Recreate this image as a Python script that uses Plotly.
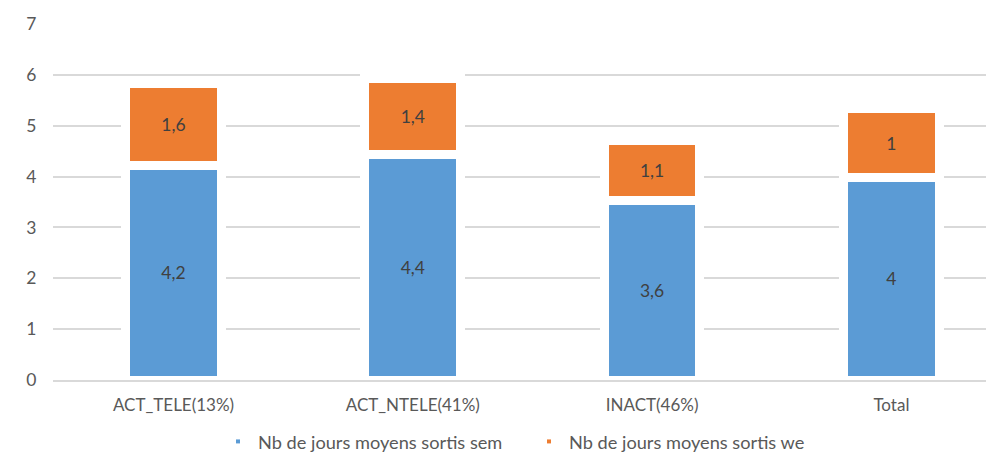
import plotly.graph_objects as go

categories = ["ACT_TELE(13%)", "ACT_NTELE(41%)", "INACT(46%)", "Total"]
sem_values = [4.21, 4.44, 3.52, 3.98]
we_values = [1.62, 1.48, 1.18, 1.35]
sem_labels = ["4,2", "4,4", "3,6", "4"]
we_labels = ["1,6", "1,4", "1,1", "1"]
series_names = ["Nb de jours moyens sortis sem", "Nb de jours moyens sortis we"]
y_ticks = [0, 1, 2, 3, 4, 5, 6, 7]

BLUE = "#5B9BD5"
ORANGE = "#ED7D31"
FONT = "Lato"

fig = go.Figure()
fig.add_trace(go.Bar(
    x=categories, y=sem_values, name=series_names[0], showlegend=False,
    marker=dict(color=BLUE, line=dict(color="white", width=9)),
    text=sem_labels, textposition="inside", insidetextanchor="middle",
    textfont=dict(color="#404040", size=17.5, family=FONT), width=0.4,
))
fig.add_trace(go.Bar(
    x=categories, y=we_values, name=series_names[1], showlegend=False,
    marker=dict(color=ORANGE, line=dict(color="white", width=9)),
    text=we_labels, textposition="inside", insidetextanchor="middle",
    textfont=dict(color="#404040", size=17.5, family=FONT), width=0.4,
))
# legend entries (small dots, as in the original), one legend per entry
for nm, col, lg in zip(series_names, [BLUE, ORANGE], ["legend", "legend2"]):
    fig.add_trace(go.Scatter(x=[None], y=[None], mode="markers", name=nm,
                             legend=lg,
                             marker=dict(color=col, size=4, symbol="square")))

leg_common = dict(orientation="h", xanchor="left", xref="container",
                  yref="container", y=0.03, yanchor="middle",
                  font=dict(size=18.2, color="#595959", family=FONT),
                  itemwidth=30, bgcolor="rgba(0,0,0,0)")

fig.update_layout(
    width=986, height=447, barmode="stack",
    margin=dict(l=45, r=0, t=16, b=74.5),
    paper_bgcolor="white", plot_bgcolor="white",
    font=dict(family=FONT, color="#595959", size=18),
    showlegend=True,
    legend=dict(x=0.213, **leg_common),
    legend2=dict(x=0.5284, **leg_common),
    uniformtext=dict(mode=False),
)
fig.update_xaxes(range=[-0.5035, 3.4288], showgrid=False, showline=True,
                 linecolor="#D9D9D9", linewidth=1.5, ticks="outside",
                 ticklen=9, tickcolor="rgba(0,0,0,0)", layer="above traces",
                 tickfont=dict(size=17, color="#595959"), automargin=False)
fig.update_yaxes(range=[0, 7], tickvals=y_ticks, showgrid=True,
                 gridcolor="#D9D9D9", gridwidth=1.5, zeroline=False,
                 ticks="outside", ticklen=12, tickcolor="rgba(0,0,0,0)",
                 tickfont=dict(size=17.5, color="#595959"), automargin=False)

fig.write_html("out.html")
